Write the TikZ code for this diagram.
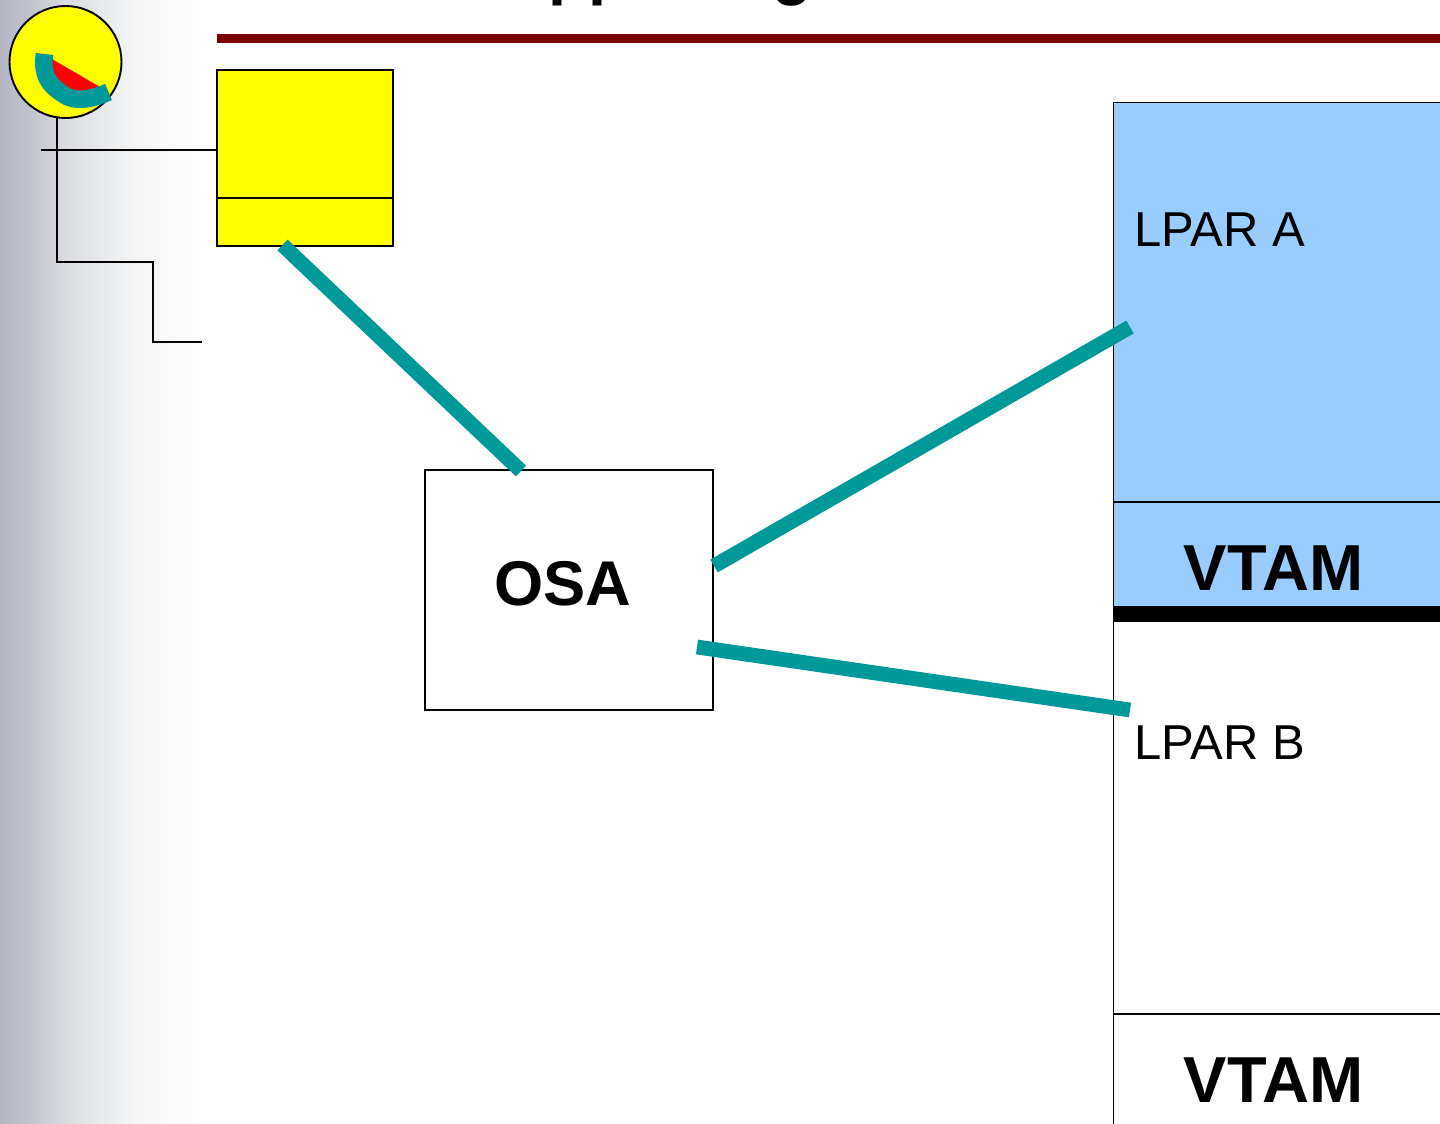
\documentclass[tikz,border=0pt]{standalone}
\usepackage{fontspec}
\setmainfont{Liberation Sans}
\definecolor{teal1}{HTML}{009999}
\definecolor{maroon1}{HTML}{7A0000}
\definecolor{lpar}{HTML}{99CCFF}
\definecolor{yel}{RGB}{255,255,0}
\definecolor{redd}{RGB}{255,0,0}
\pgfdeclarehorizontalshading{fade}{100bp}{
  rgb(0bp)=(0.702,0.714,0.761); rgb(25bp)=(0.702,0.714,0.761); rgb(31.6bp)=(0.753,0.761,0.796); rgb(41.5bp)=(0.863,0.867,0.886); rgb(57.8bp)=(0.953,0.957,0.961); rgb(70bp)=(0.988,0.988,0.988); rgb(75bp)=(1,1,1); rgb(100bp)=(1,1,1)
}
\tikzset{
  x=0.5pt,y=-0.5pt,
  thin1/.style={draw=black,line width=0.95pt},
  linkline/.style={draw=teal1,line width=7.4pt},
  bigt/.style={font=\fontsize{32.5pt}{36pt}\selectfont\bfseries,text=black,inner sep=0pt},
  lab/.style={font=\fontsize{24.5pt}{28pt}\selectfont,text=black,inner sep=0pt,anchor=base west},
}
\begin{document}
\begin{tikzpicture}
\useasboundingbox (0,0) rectangle (1440,1124);
\begin{scope}
\clip (0,0) rectangle (1440,1124);
\path[shading=fade,shading angle=0] (0,0) rectangle (203,1124);
\node[bigt,anchor=base west] (title) at (465,-7) {Supporting};
\fill[maroon1] (217,34) rectangle (1440,43);

% left tree
\coordinate (treeTop) at (57,118);
\coordinate (treeEnd) at (202,342);
\coordinate (busStart) at (41,150);
\draw[thin1] (treeTop) -- (57,262) -- (153,262) -- (153,342) -- (treeEnd);

% icon
\node[circle,draw=black,fill=yel,line width=0.95pt,minimum size=56pt,inner sep=0pt] (icon) at (65.5,62) {};
\fill[redd] (52,59) -- (100,87) .. controls (88,92) and (78,92) .. (72,90) .. controls (60,84) and (50,74) .. (52,59) -- cycle;
\draw[teal1,line width=8.8pt] (44.5,54) .. controls (41,78) and (52,88) .. (68,97) .. controls (80,102) and (95,98) .. (108.5,92);

% yellow box
\node[draw=black,fill=yel,line width=0.95pt,minimum width=88pt,minimum height=88pt,inner sep=0pt] (ybox) at (305,158) {};
\coordinate (ydivL) at (217,198);
\coordinate (ydivR) at (393,198);
\draw[thin1] (ydivL) -- (ydivR);
\draw[thin1] (busStart) -- (busStart -| ybox.west);

% LPARs
\node[draw=black,fill=lpar,line width=0.95pt,minimum width=200pt,minimum height=252pt,inner sep=0pt,anchor=north west] (lparA) at (1112.5,101.5) {};
\node[draw=black,fill=white,line width=0.95pt,minimum width=200pt,minimum height=300pt,inner sep=0pt,anchor=north west] (lparB) at (1112.5,614) {};
\fill[black] (1113,606) rectangle (1440,622);
\coordinate (divAL) at (1113,502);
\coordinate (divAR) at (1440,502);
\coordinate (divBL) at (1113,1014);
\coordinate (divBR) at (1440,1014);
\draw[thin1] (divAL) -- (divAR);
\draw[thin1] (divBL) -- (divBR);
\node[lab] (la) at (1134,246) {LPAR A};
\node[lab] (lb) at (1134,759) {LPAR B};
\node[bigt,anchor=base] (va) at (1273.5,590) {VTAM};
\node[bigt,anchor=base] (vb) at (1273.5,1102) {VTAM};

% OSA
\node[draw=black,fill=white,line width=0.95pt,minimum width=144pt,minimum height=120pt,inner sep=0pt] (osa) at (569,590) {};
\node[bigt,anchor=base,font=\fontsize{31.6pt}{36pt}\selectfont\bfseries] (osat) at (562.5,605) {OSA};

% links
\coordinate (l1a) at (282.5,245);
\coordinate (l1b) at (521,471);
\coordinate (l2a) at (714,566);
\coordinate (l2b) at (1130,327);
\coordinate (l3a) at (697,647);
\coordinate (l3b) at (1130,710);
\draw[linkline] (l1a) -- (l1b);
\draw[linkline] (l2a) -- (l2b);
\draw[linkline] (l3a) -- (l3b);
\end{scope}
\end{tikzpicture}
\end{document}
